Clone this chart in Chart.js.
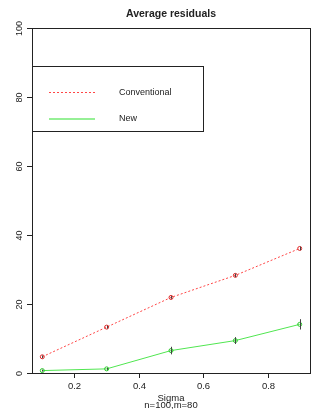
<!DOCTYPE html>
<html>
<head>
<meta charset="utf-8">
<script src="https://cdn.jsdelivr.net/npm/chart.js@4/dist/chart.umd.min.js"></script>
<style>
  html, body { margin: 0; padding: 0; background: #fff; }
  #wrap { width: 327px; height: 409px; }
</style>
</head>
<body>
<div id="wrap"><canvas id="c" width="327" height="409"></canvas></div>
<script>
// data
const sigma = [0.1, 0.3, 0.5, 0.7, 0.9];
const conventional = [4.7, 13.3, 21.9, 28.3, 36.1];
const conventionalErr = [0.4, 0.4, 0.4, 0.5, 0.5];
const newMethod = [0.7, 1.2, 6.5, 9.4, 14.1];
const newErr = [0.3, 0.3, 1.1, 1.0, 1.5];
const xTicks = [0.2, 0.4, 0.6, 0.8];
const yTicks = [0, 20, 40, 60, 80, 100];
const legendLabels = ['Conventional', 'New'];

const RED = 'rgb(255,70,70)';
const GREEN = 'rgb(80,230,80)';
const FONT = '"Liberation Sans", Arial, sans-serif';

function toXY(xs, ys) { return xs.map((x, i) => ({ x, y: ys[i] })); }

const rPlot = {
  id: 'rPlot',
  afterDatasetsDraw(chart) {
    const { ctx, chartArea: a, scales: { x, y } } = chart;
    ctx.save();

    // error bars
    ctx.strokeStyle = '#444';
    ctx.lineWidth = 1;
    const bars = (vals, errs) => vals.forEach((v, i) => {
      const px = Math.round(x.getPixelForValue(sigma[i])) + 0.5;
      ctx.beginPath();
      ctx.moveTo(px, y.getPixelForValue(v - errs[i]));
      ctx.lineTo(px, y.getPixelForValue(v + errs[i]));
      ctx.stroke();
    });
    bars(conventional, conventionalErr);
    bars(newMethod, newErr);

    // frame
    ctx.strokeStyle = '#222';
    ctx.strokeRect(Math.round(a.left) + 0.5, Math.round(a.top) + 0.5,
      Math.round(a.right - a.left), Math.round(a.bottom - a.top));

    // x axis ticks + labels
    ctx.fillStyle = '#222';
    ctx.font = '9.5px ' + FONT;
    ctx.textAlign = 'center';
    ctx.textBaseline = 'middle';
    xTicks.forEach(t => {
      const px = Math.round(x.getPixelForValue(t)) + 0.5;
      ctx.beginPath();
      ctx.moveTo(px, a.bottom); ctx.lineTo(px, a.bottom + 5);
      ctx.stroke();
      ctx.fillText(t.toFixed(1), px, a.bottom + 13);
    });

    // y axis ticks + rotated labels
    ctx.font = '9px ' + FONT;
    yTicks.forEach(t => {
      const py = Math.round(y.getPixelForValue(t)) + 0.5;
      ctx.beginPath();
      ctx.moveTo(a.left - 5, py); ctx.lineTo(a.left, py);
      ctx.stroke();
      ctx.save();
      ctx.translate(a.left - 12, py);
      ctx.rotate(-Math.PI / 2);
      ctx.fillText(String(t), 0, 0);
      ctx.restore();
    });

    // titles
    ctx.font = 'bold 10.5px ' + FONT;
    const cx = (a.left + a.right) / 2;
    ctx.fillText('Average residuals', cx, 14);
    ctx.font = '9.5px ' + FONT;
    ctx.fillText('Sigma', cx, 398);
    ctx.fillText('n=100,m=80', cx, 405);

    // legend box
    const lx0 = x.getPixelForValue(0.068), lx1 = x.getPixelForValue(0.6);
    const ly0 = y.getPixelForValue(89), ly1 = y.getPixelForValue(70.2);
    ctx.fillStyle = '#fff';
    ctx.fillRect(lx0, ly0, lx1 - lx0, ly1 - ly0);
    ctx.strokeStyle = '#222';
    ctx.strokeRect(Math.round(lx0) + 0.5, Math.round(ly0) + 0.5,
      Math.round(lx1 - lx0), Math.round(ly1 - ly0));

    ctx.font = '9px ' + FONT;
    const rows = [
      { label: legendLabels[0], color: RED, dash: [2, 2], h: 1, yv: 81.5 },
      { label: legendLabels[1], color: 'rgb(150,240,150)', dash: [], h: 2, yv: 73.9 }
    ];
    rows.forEach(r => {
      // snap to an even row so the thin coloured sample keeps its colour
      const py = Math.round(y.getPixelForValue(r.yv) / 2) * 2;
      ctx.save();
      ctx.fillStyle = r.color;
      const step = r.dash.length ? r.dash[0] + r.dash[1] : 1;
      const len = r.dash.length ? r.dash[0] : 1;
      for (let px = 49; px < 95; px += step) ctx.fillRect(px, py, len, r.h);
      ctx.restore();
      ctx.fillStyle = '#222';
      ctx.textAlign = 'left';
      ctx.fillText(r.label, 119, py + 0.5);
    });
    ctx.restore();
  }
};

new Chart(document.getElementById('c'), {
  type: 'line',
  data: {
    datasets: [
      {
        label: legendLabels[0],
        data: toXY(sigma, conventional),
        borderColor: RED,
        borderDash: [2, 2],
        borderWidth: 1,
        pointRadius: 2,
        pointBorderColor: 'rgb(220,40,40)',
        pointBackgroundColor: 'rgba(0,0,0,0)',
        pointBorderWidth: 1,
        tension: 0
      },
      {
        label: legendLabels[1],
        data: toXY(sigma, newMethod),
        borderColor: GREEN,
        borderWidth: 1,
        pointRadius: 2,
        pointBorderColor: 'rgb(40,200,40)',
        pointBackgroundColor: 'rgba(0,0,0,0)',
        pointBorderWidth: 1,
        tension: 0
      }
    ]
  },
  options: {
    responsive: false,
    animation: false,
    events: [],
    layout: { padding: { left: 32, right: 17, top: 28, bottom: 36 } },
    plugins: { legend: { display: false }, tooltip: { enabled: false }, title: { display: false } },
    scales: {
      x: { type: 'linear', min: 0.068, max: 0.932, display: false },
      y: { type: 'linear', min: 0, max: 100, display: false }
    }
  },
  plugins: [rPlot]
});
</script>
</body>
</html>
